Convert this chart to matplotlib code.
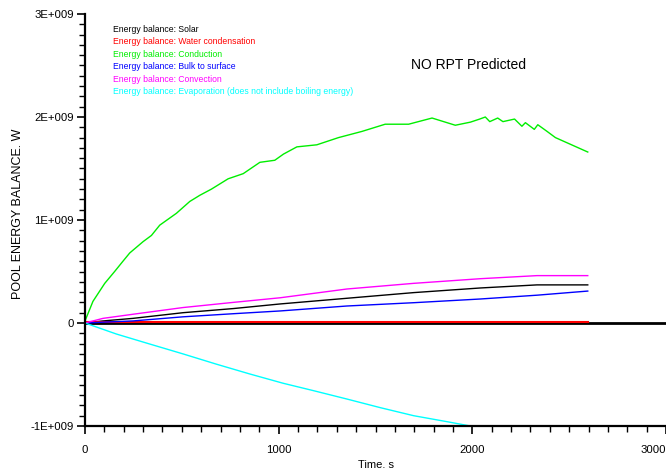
import matplotlib
matplotlib.use("Agg")
import matplotlib.pyplot as plt
from matplotlib.ticker import MultipleLocator, FixedLocator
import numpy as np

plt.rcParams['font.family'] = ['Liberation Sans', 'DejaVu Sans']

# time (s) and energy balance values (units of 1E9 W)
t_cond = [0, 41, 102, 153, 196, 231, 300, 343, 386, 472, 541, 593, 653, 739, 817, 903, 980,
          1025, 1094, 1197, 1309, 1430, 1550, 1671, 1792, 1912, 1990, 2038, 2067, 2090, 2131,
          2158, 2218, 2256, 2274, 2320, 2338, 2386, 2429, 2596]
v_cond = [0.02, 0.21, 0.385, 0.50, 0.60, 0.68, 0.79, 0.85, 0.95, 1.065, 1.18, 1.24, 1.30, 1.40,
          1.45, 1.56, 1.58, 1.64, 1.71, 1.73, 1.80, 1.86, 1.93, 1.93, 1.99, 1.92, 1.95, 1.98, 2.00,
          1.955, 1.99, 1.955, 1.98, 1.91, 1.945, 1.88, 1.925, 1.86, 1.80, 1.66]

t_slow = [0, 93, 248, 506, 765, 1008, 1352, 1697, 2041, 2334, 2596]
v_conv = [0.0, 0.045, 0.085, 0.15, 0.20, 0.245, 0.33, 0.385, 0.43, 0.46, 0.46]
v_solar = [0.0, 0.02, 0.045, 0.10, 0.14, 0.185, 0.24, 0.295, 0.34, 0.37, 0.37]
v_bulk = [0.0, 0.008, 0.02, 0.06, 0.09, 0.117, 0.165, 0.197, 0.233, 0.27, 0.31]
v_cond_water = [0.008, 0.008, 0.008, 0.008, 0.008, 0.008, 0.008, 0.008, 0.008, 0.008, 0.008]

t_evap = [0, 162, 334, 506, 679, 851, 1023, 1180, 1352, 1525, 1697, 1869, 1990, 2300, 2596]
v_evap = [0.0, -0.107, -0.204, -0.30, -0.40, -0.495, -0.585, -0.657, -0.738, -0.822, -0.90,
          -0.958, -1.0, -1.12, -1.22]

x_ticks = [0, 1000, 2000, 3000]
y_ticks = [-1e9, 0, 1e9, 2e9, 3e9]
y_ticklabels = ["-1E+009", "0", "1E+009", "2E+009", "3E+009"]

legend_labels = ["Energy balance: Solar",
                 "Energy balance: Water condensation",
                 "Energy balance: Conduction",
                 "Energy balance: Bulk to surface",
                 "Energy balance: Convection",
                 "Energy balance: Evaporation (does not include boiling energy)"]
colors = ["black", "#ff0000", "#00ee00", "#0000ff", "#ff00ff", "#00ffff"]

fig = plt.figure(figsize=(6.66, 4.73), dpi=100)
ax = fig.add_axes([85/666, 1-426/473, 581/666, 412/473])

ax.axhline(0, color="black", lw=2.0, zorder=1)
ax.plot(t_slow, np.array(v_solar)*1e9, color=colors[0], lw=1.0)
ax.plot(t_slow, np.array(v_cond_water)*1e9, color=colors[1], lw=1.5)
ax.plot(t_cond, np.array(v_cond)*1e9, color=colors[2], lw=1.0)
ax.plot(t_slow, np.array(v_bulk)*1e9, color=colors[3], lw=1.0)
ax.plot(t_slow, np.array(v_conv)*1e9, color=colors[4], lw=1.0)
ax.plot(t_evap, np.array(v_evap)*1e9, color=colors[5], lw=1.0)

ax.set_xlim(0, 3000)
ax.set_ylim(-1e9, 3e9)
for s in ["top", "right"]:
    ax.spines[s].set_visible(False)
for s in ["left", "bottom"]:
    ax.spines[s].set_linewidth(1.6)

ax.xaxis.set_major_locator(FixedLocator(x_ticks))
ax.xaxis.set_minor_locator(MultipleLocator(100))
ax.yaxis.set_major_locator(FixedLocator(y_ticks))
ax.yaxis.set_minor_locator(MultipleLocator(1e8))
ax.set_yticklabels(y_ticklabels)
ax.set_xticklabels([str(x) for x in x_ticks])
ax.get_xticklabels()[-1].set_ha("right")
ax.tick_params(which="major", length=6, width=1.2, labelsize=8.2, direction="out", pad=8)
ax.tick_params(which="minor", length=4, width=1.0, direction="out")
ax.tick_params(axis="y", which="major", pad=2)

ax.set_xlabel("Time. s", fontsize=8, labelpad=3)
fig.text(18/666, 1-214/473, "POOL ENERGY BALANCE. W", fontsize=9, rotation=90,
         ha="center", va="center")

for i, (lab, c) in enumerate(zip(legend_labels, colors)):
    fig.text(113/666, 1-(29.3+12.5*i)/473, lab, color=c, fontsize=6.2, va="center", ha="left")

fig.text(469/666, 1-65/473, "NO RPT Predicted", fontsize=10, ha="center", va="center")

fig.savefig("out.png", dpi=100)
